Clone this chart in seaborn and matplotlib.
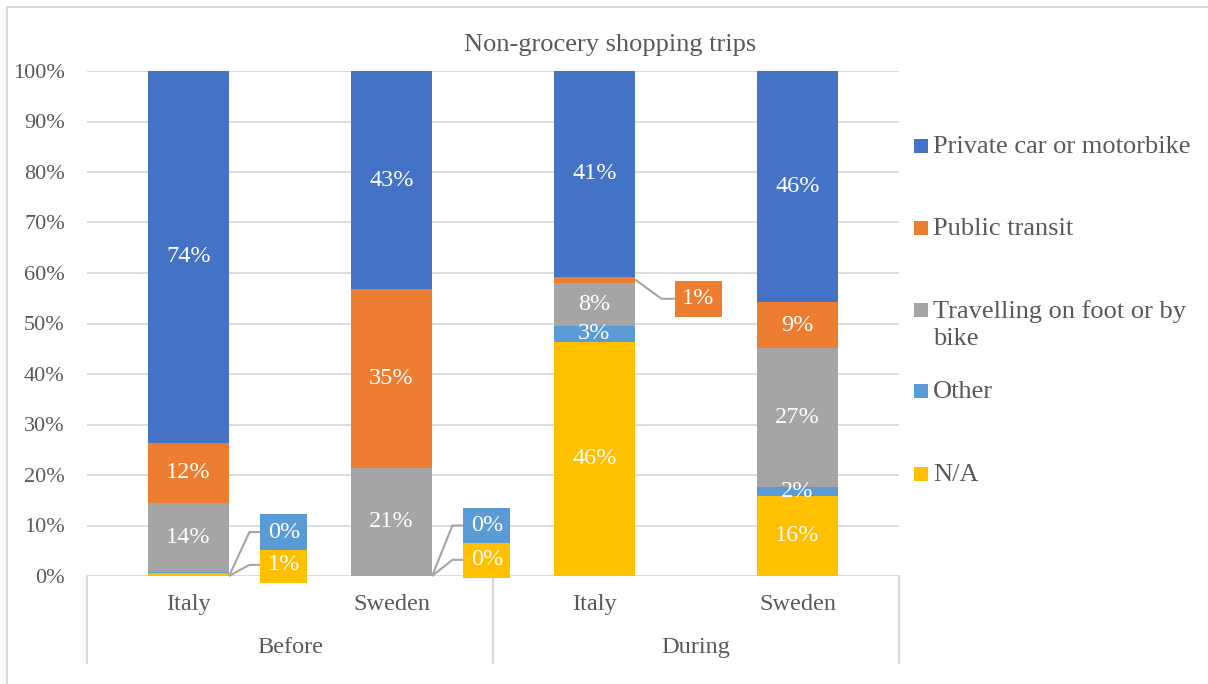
import numpy as np
import pandas as pd
import matplotlib.pyplot as plt
from matplotlib.patches import Rectangle
import seaborn as sns

# chart data (percent of trips)
countries = ["Italy", "Sweden", "Italy", "Sweden"]
periods = ["Before", "During"]
modes = ["Private car or motorbike", "Public transit", "Travelling on foot or by bike", "Other", "N/A"]
car = [73.6, 43.2, 40.7, 45.7]
transit = [12.0, 35.4, 1.2, 9.2]
foot = [13.6, 21.4, 8.5, 27.4]
other = [0.2, 0.0, 3.2, 1.8]
na = [0.6, 0.0, 46.4, 15.9]

colors = ["#4472C4", "#ED7D31", "#A5A5A5", "#5B9BD5", "#FFC000"]
text_grey = "#595959"
line_grey = "#D9D9D9"

sns.set_style("white")
plt.rcParams["font.family"] = ["Liberation Serif", "DejaVu Serif"]

fig = plt.figure(figsize=(12.08, 6.84), dpi=100)
ax = fig.add_axes([87 / 1208, 1 - 576 / 684, 812 / 1208, 505 / 684])

# stacking order from bottom: N/A, Other, foot, transit, car
layers = [(na, 4), (other, 3), (foot, 2), (transit, 1), (car, 0)]
pos = list(range(len(countries)))
bottom = np.zeros(len(pos))
seg_info = []
for vals, k in layers:
    df = pd.DataFrame({"pos": pos, "share": np.array(vals) / 100})
    sns.barplot(data=df, x="pos", y="share", color=colors[k], saturation=1,
                width=0.4, errorbar=None, bottom=bottom.copy(), ax=ax,
                linewidth=0, zorder=3)
    for i, v in enumerate(vals):
        seg_info.append((i, k, v, bottom[i] + v / 200))
    bottom += np.array(vals) / 100

ax.set_xlim(-0.5, 3.5)
ax.set_ylim(0, 1)
ticks = np.arange(0, 1.01, 0.1)
ax.set_yticks(ticks)
ax.set_yticklabels([f"{int(round(t * 100))}%" for t in ticks],
                   fontsize=16, color=text_grey)
ax.tick_params(axis="y", length=0, pad=16)
ax.set_xticks([])
ax.set_xlabel("")
ax.set_ylabel("")
ax.grid(axis="y", color=line_grey, lw=1.3, zorder=0)
for s in ax.spines.values():
    s.set_visible(False)

# callout positions (label x, label y) for the small segments
callouts = {(0, 3): (0.47, 0.087), (0, 4): (0.47, 0.022),
            (1, 3): (1.47, 0.100), (1, 4): (1.47, 0.032),
            (2, 1): (2.51, 0.549)}

for i, k, v, ymid in seg_info:
    label = f"{round(v)}%"
    if (i, k) in callouts:
        lx, ly = callouts[(i, k)]
        edge = i + 0.2
        elbow = i + 0.3 if i < 2 else i + 0.33
        y0 = ymid if i == 2 else 0.0
        ax.plot([edge, elbow, lx - 0.11], [y0, ly, ly], color="#A5A5A5",
                lw=1.5, zorder=4, clip_on=False, solid_capstyle="butt")
        ax.text(lx, ly, label, ha="center", va="center", fontsize=17.5,
                color="white", zorder=5,
                bbox=dict(boxstyle="square,pad=0.3", fc=colors[k], ec="none"))
    else:
        ax.text(i, ymid, label, ha="center", va="center", fontsize=17.5,
                color="white", zorder=5)

# two-level category axis
trans = ax.get_xaxis_transform()
for x in [-0.5, 1.5, 3.5]:
    ax.plot([x, x], [0, -0.172], color=line_grey, lw=1.5, transform=trans, clip_on=False)
for i, c in enumerate(countries):
    ax.text(i, -0.057, c, ha="center", va="center", fontsize=17.5,
            color=text_grey, transform=trans)
for j, p in enumerate(periods):
    ax.text(2 * j + 0.5, -0.141, p, ha="center", va="center", fontsize=17.5,
            color=text_grey, transform=trans)

fig.text(0.505, 1 - 45 / 684, "Non-grocery shopping trips", ha="center",
         va="center", fontsize=19, color=text_grey)

# legend on the right
legend_y = [146, 228, 310, 391, 474]
legend_text = ["Private car or motorbike", "Public transit",
               "Travelling on foot or by\nbike", "Other", "N/A"]
for k, (yy, t) in enumerate(zip(legend_y, legend_text)):
    fig.patches.append(Rectangle((914 / 1208, 1 - (yy + 7) / 684), 14 / 1208, 14 / 684,
                                 transform=fig.transFigure, fc=colors[k], ec="none"))
    fig.text(933 / 1208, 1 - (yy - 10) / 684, t, ha="left", va="top",
             fontsize=19, color=text_grey, linespacing=1.3)

fig.patches.append(Rectangle((7 / 1208, -0.01), 1.2, 1 - 7 / 684 + 0.01,
                             transform=fig.transFigure, fill=False,
                             ec=line_grey, lw=1.5))

fig.savefig("out.png", dpi=100)
